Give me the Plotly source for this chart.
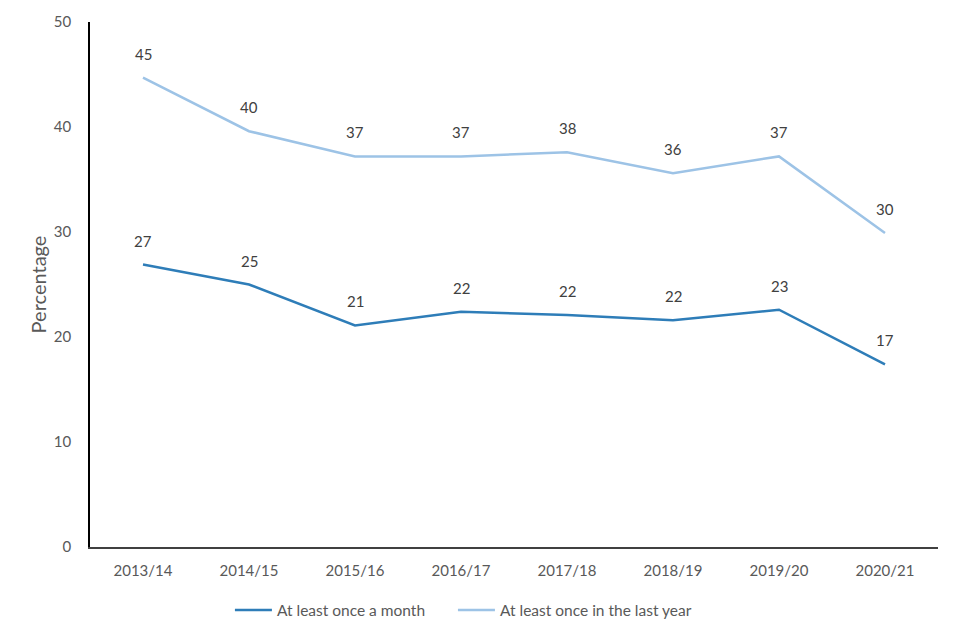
import plotly.graph_objects as go

years = ["2013/14", "2014/15", "2015/16", "2016/17", "2017/18", "2018/19", "2019/20", "2020/21"]
monthly = [26.9, 25.0, 21.1, 22.4, 22.1, 21.6, 22.6, 17.4]
yearly = [44.7, 39.6, 37.2, 37.2, 37.6, 35.6, 37.2, 29.9]

dark = "#2E7DB8"
light = "#9DC3E6"
font_family = "Lato, 'Open Sans', sans-serif"

fig = go.Figure()
fig.add_trace(go.Scatter(x=years, y=monthly, mode="lines", name="At least once a month",
                         line=dict(color=dark, width=2.5), legend="legend"))
fig.add_trace(go.Scatter(x=years, y=yearly, mode="lines", name="At least once in the last year",
                         line=dict(color=light, width=2.5), legend="legend2"))

for series in (monthly, yearly):
    for x, v in zip(years, series):
        fig.add_annotation(x=x, y=v, text=f"{v:.0f}", showarrow=False, yshift=24,
                           font=dict(size=15, color="#404040", family=font_family))

legend_style = dict(orientation="h", xanchor="left", y=-0.121, yanchor="middle",
                    font=dict(size=15.5, color="#595959"), itemwidth=37)

fig.update_layout(
    width=960, height=640,
    margin=dict(l=82, r=30, t=14, b=101, autoexpand=False),
    paper_bgcolor="white", plot_bgcolor="white",
    font=dict(family=font_family, size=15, color="#595959"),
    showlegend=True,
    legend=dict(x=0.165, **legend_style),
    legend2=dict(x=0.428, **legend_style),
)
fig.update_xaxes(type="category", range=[-0.5, 7.5], showline=True, linecolor="#404040", linewidth=2,
                 showgrid=False, ticks="", ticklabelstandoff=9, automargin=False,
                 tickfont=dict(size=15, color="#595959"))
fig.update_yaxes(range=[0, 50], dtick=10, showline=True, linecolor="#000000", linewidth=1.5,
                 showgrid=False, zeroline=False, ticks="", ticklabelstandoff=14, automargin=False,
                 tickfont=dict(size=15, color="#595959"),
                 title=dict(text="Percentage", font=dict(size=20, color="#595959"), standoff=2))

fig.write_html("out.html")
